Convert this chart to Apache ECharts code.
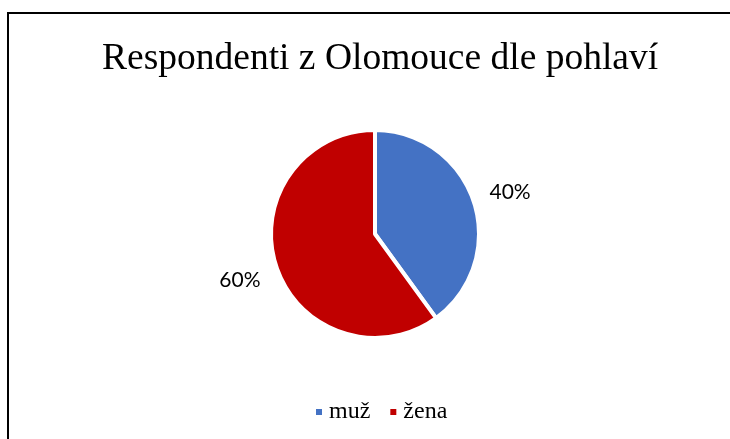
<!DOCTYPE html>
<html>
<head>
<meta charset="utf-8">
<script src="https://cdn.jsdelivr.net/npm/echarts@6/dist/echarts.min.js"></script>
<style>
  html, body { margin: 0; padding: 0; background: #fff; overflow: hidden; }
  #frame { position: absolute; left: 7px; top: 12px; width: 760px; height: 460px;
           border-left: 2.5px solid #000; border-top: 2.5px solid #000; }
  #chart { position: absolute; left: 0; top: 0; width: 730px; height: 439px; }
</style>
</head>
<body>
<div id="frame"></div>
<div id="chart"></div>
<script>
const categories = ['muž', 'žena']
const values = [40, 60]
const colors = ['#4472C4', '#C00000']

const pieData = categories.map((name, i) => ({
  name: name,
  value: values[i],
  itemStyle: { color: colors[i] }
}))

const myChart = echarts.init(document.getElementById('chart'))
myChart.setOption({
  backgroundColor: 'transparent',
  animation: false,
  title: {
    text: 'Respondenti z Olomouce dle pohlaví',
    left: 97,
    top: 35,
    textStyle: {
      fontFamily: 'Liberation Serif',
      fontWeight: 'normal',
      fontSize: 37.5,
      color: '#000'
    }
  },
  legend: {
    bottom: 10,
    left: 309,
    itemWidth: 8,
    itemHeight: 8,
    itemGap: 18,
    icon: 'rect',
    data: categories,
    textStyle: {
      fontFamily: 'Liberation Serif',
      fontSize: 24,
      color: '#000',
      padding: [0, 0, 0, 1]
    }
  },
  series: [
    {
      type: 'pie',
      radius: 104,
      center: [375, 234],
      startAngle: 90,
      clockwise: true,
      label: { show: false },
      labelLine: { show: false },
      itemStyle: { borderColor: '#fff', borderWidth: 4 },
      data: pieData
    },
    {
      // transparent ring used only to place the percentage labels
      type: 'pie',
      radius: [129, 149],
      center: [375, 236],
      startAngle: 90,
      clockwise: true,
      silent: true,
      legendHoverLink: false,
      itemStyle: { color: 'transparent', borderWidth: 0 },
      label: {
        show: true,
        position: 'inside',
        formatter: p => Math.round(p.percent) + '%',
        fontFamily: 'Lato',
        fontSize: 21,
        color: '#000'
      },
      labelLine: { show: false },
      data: values.map((v, i) => ({ name: categories[i] + ' ', value: v }))
    }
  ]
})
</script>
</body>
</html>
